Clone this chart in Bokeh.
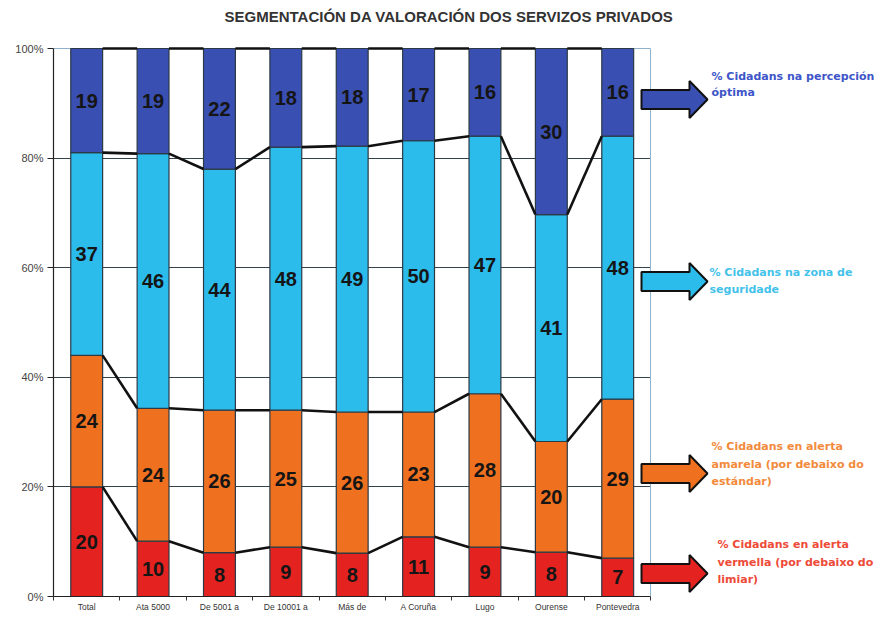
from bokeh.plotting import figure
from bokeh.models import ColumnDataSource, FixedTicker, Grid, Range1d, Label
from bokeh.core.properties import value
from bokeh.embed import file_html
from bokeh.resources import INLINE

# ---------------- data ----------------
title_text = "SEGMENTACIÓN DA VALORACIÓN DOS SERVIZOS PRIVADOS"
categories = ["Total", "Ata 5000", "De 5001 a", "De 10001 a", "Más de",
              "A Coruña", "Lugo", "Ourense", "Pontevedra"]
alerta_vermella = [20, 10, 8, 9, 8, 11, 9, 8, 7]
alerta_amarela = [24, 24, 26, 25, 26, 23, 28, 20, 29]
zona_seguridade = [37, 46, 44, 48, 49, 50, 47, 41, 48]
percepcion_optima = [19, 19, 22, 18, 18, 17, 16, 30, 16]
y_tick_values = [0, 20, 40, 60, 80, 100]
y_tick_labels = ["0%", "20%", "40%", "60%", "80%", "100%"]

series_values = [alerta_vermella, alerta_amarela, zona_seguridade, percepcion_optima]
series_colors = ["#e42320", "#ef7120", "#2bbcec", "#3a4fb2"]
note_colors = ["#ee4a38", "#f28a3c", "#44c2ea", "#3d55c8"]
note_lines = [
    ["% Cidadans en alerta", "vermella (por debaixo do", "limiar)"],
    ["% Cidadans en alerta", "amarela (por debaixo do", "estándar)"],
    ["% Cidadans na zona de", "seguridade"],
    ["% Cidadans na percepción", "óptima"],
]

# ---------------- layout constants ----------------
W, H = 874, 616
LEFT, BOTTOM = 53, 20
PLOT_TOP = 48              # canvas px where the 100% line sits
OFF = 1.0                  # page offset of the canvas
PLOT_PX_W = 597.4          # width of the category area in px
n = len(categories)
px_x = n / PLOT_PX_W       # data units per px (x)
plot_h = H - BOTTOM - PLOT_TOP
px_y = 100.0 / plot_h      # data units per px (y)
x_end = (W - LEFT) * px_x
y_end = 100 + PLOT_TOP * px_y
BAR_W = 0.48
FONT = "Liberation Sans"
x0_page = LEFT + OFF
y0_page = OFF + H - BOTTOM

def page_y_to_data(py):
    return (y0_page - py) * px_y

def page_x_to_data(px):
    return (px - x0_page) * px_x

# ---------------- derived stacks ----------------
totals = [sum(v[i] for v in series_values) for i in range(n)]
xs = [i + 0.5 for i in range(n)]
pct = [[v[i] * 100.0 / totals[i] for i in range(n)] for v in series_values]
bottoms, tops = [], []
run = [0.0] * n
for s in pct:
    bottoms.append(run[:])
    run = [run[i] + s[i] for i in range(n)]
    tops.append(run[:])

p = figure(width=W, height=H, output_backend="svg", toolbar_location=None,
           x_range=Range1d(0, x_end), y_range=Range1d(0, y_end),
           min_border_left=LEFT, min_border_top=0, min_border_right=0,
           min_border_bottom=BOTTOM)
p.outline_line_color = None
p.background_fill_color = "white"

# title
p.add_layout(Label(x=page_x_to_data(225), y=page_y_to_data(17), text=title_text,
                   text_font=FONT, text_font_size="15px", text_font_style="bold",
                   text_color="#333333", text_align="left", text_baseline="middle"))

# grids (limited to the plot area)
p.xgrid.visible = False
p.ygrid.ticker = FixedTicker(ticks=y_tick_values[1:-1])
p.ygrid.grid_line_color = "#33434c"
p.ygrid.grid_line_width = 1
p.ygrid.cross_bounds = (0, n)
p.add_layout(Grid(dimension=1, ticker=FixedTicker(ticks=[100]), grid_line_color="#8fb3cc",
                  grid_line_width=1, cross_bounds=(0, n)))
p.add_layout(Grid(dimension=0, ticker=FixedTicker(ticks=[n]), grid_line_color="#8fb3cc",
                  grid_line_width=1, cross_bounds=(0, 100)))

# bars
for k in range(4):
    src = ColumnDataSource(dict(x=xs, bottom=bottoms[k], top=tops[k]))
    p.vbar(x="x", bottom="bottom", top="top", width=BAR_W, source=src,
           fill_color=series_colors[k], line_color="#2b3a44", line_width=1.2)

# series lines
for k in range(4):
    src = ColumnDataSource(dict(
        x0=[xs[i] + BAR_W / 2 for i in range(n - 1)],
        x1=[xs[i + 1] - BAR_W / 2 for i in range(n - 1)],
        y0=[tops[k][i] for i in range(n - 1)],
        y1=[tops[k][i + 1] for i in range(n - 1)]))
    p.segment(x0="x0", y0="y0", x1="x1", y1="y1", source=src,
              line_color="#111111", line_width=2.6)

# labels in segments
for k in range(4):
    src = ColumnDataSource(dict(
        x=xs, y=[(bottoms[k][i] + tops[k][i]) / 2 for i in range(n)],
        t=[str(v) for v in series_values[k]]))
    p.text(x="x", y="y", text="t", source=src, text_align="center",
           text_baseline="middle", text_font=value(FONT), text_font_size="20px",
           text_font_style="bold", text_color="#151515")

# arrows + notes on the right
arrow_page_y = [574, 474, 282, 100]
note_page_y = [[545, 563, 580], [447, 465, 482], [273, 290], [77, 93]]
note_page_x = [718, 712, 710, 712]
tail_x = page_x_to_data(642)
head_x = page_x_to_data(690)
tip_x = page_x_to_data(708)
for k in range(4):
    cy = page_y_to_data(arrow_page_y[k])
    sh, hh = 9.5 * px_y, 18.5 * px_y
    ax = [tail_x, head_x, head_x, tip_x, head_x, head_x, tail_x]
    ay = [cy + sh, cy + sh, cy + hh, cy, cy - hh, cy - sh, cy - sh]
    p.patch(ax, ay, fill_color=series_colors[k], line_color="#111111", line_width=2)
    src = ColumnDataSource(dict(
        x=[page_x_to_data(note_page_x[k])] * len(note_lines[k]),
        y=[page_y_to_data(v) for v in note_page_y[k]],
        t=note_lines[k]))
    p.text(x="x", y="y", text="t", source=src, text_align="left",
           text_baseline="middle", text_font=value("DejaVu Sans"),
           text_font_size="11px", text_font_style="bold", text_color=note_colors[k])

# axes
xa = p.xaxis[0]
xa.ticker = FixedTicker(ticks=xs, minor_ticks=list(range(n + 1)))
xa.major_label_overrides = {x: c for x, c in zip(xs, categories)}
xa.bounds = (0, n)
xa.axis_line_color = "#222222"
xa.axis_line_width = 1.2
xa.major_tick_out = 0
xa.major_tick_in = 0
xa.minor_tick_out = 4
xa.minor_tick_in = 0
xa.minor_tick_line_color = "#333333"
xa.major_label_standoff = 1
xa.major_label_text_font = FONT
xa.major_label_text_font_size = "8.5px"
xa.major_label_text_color = "#333333"

ya = p.yaxis[0]
ya.ticker = FixedTicker(ticks=y_tick_values, minor_ticks=[])
ya.major_label_overrides = {v: l for v, l in zip(y_tick_values, y_tick_labels)}
ya.bounds = (0, 100)
ya.axis_line_color = "#222222"
ya.axis_line_width = 1.2
ya.major_tick_out = 6
ya.major_tick_in = 0
ya.major_tick_line_color = "#222222"
ya.major_label_standoff = 4
ya.major_label_text_font = FONT
ya.major_label_text_font_size = "11px"
ya.major_label_text_color = "#444444"

open("out.html", "w").write(file_html(p, INLINE))
